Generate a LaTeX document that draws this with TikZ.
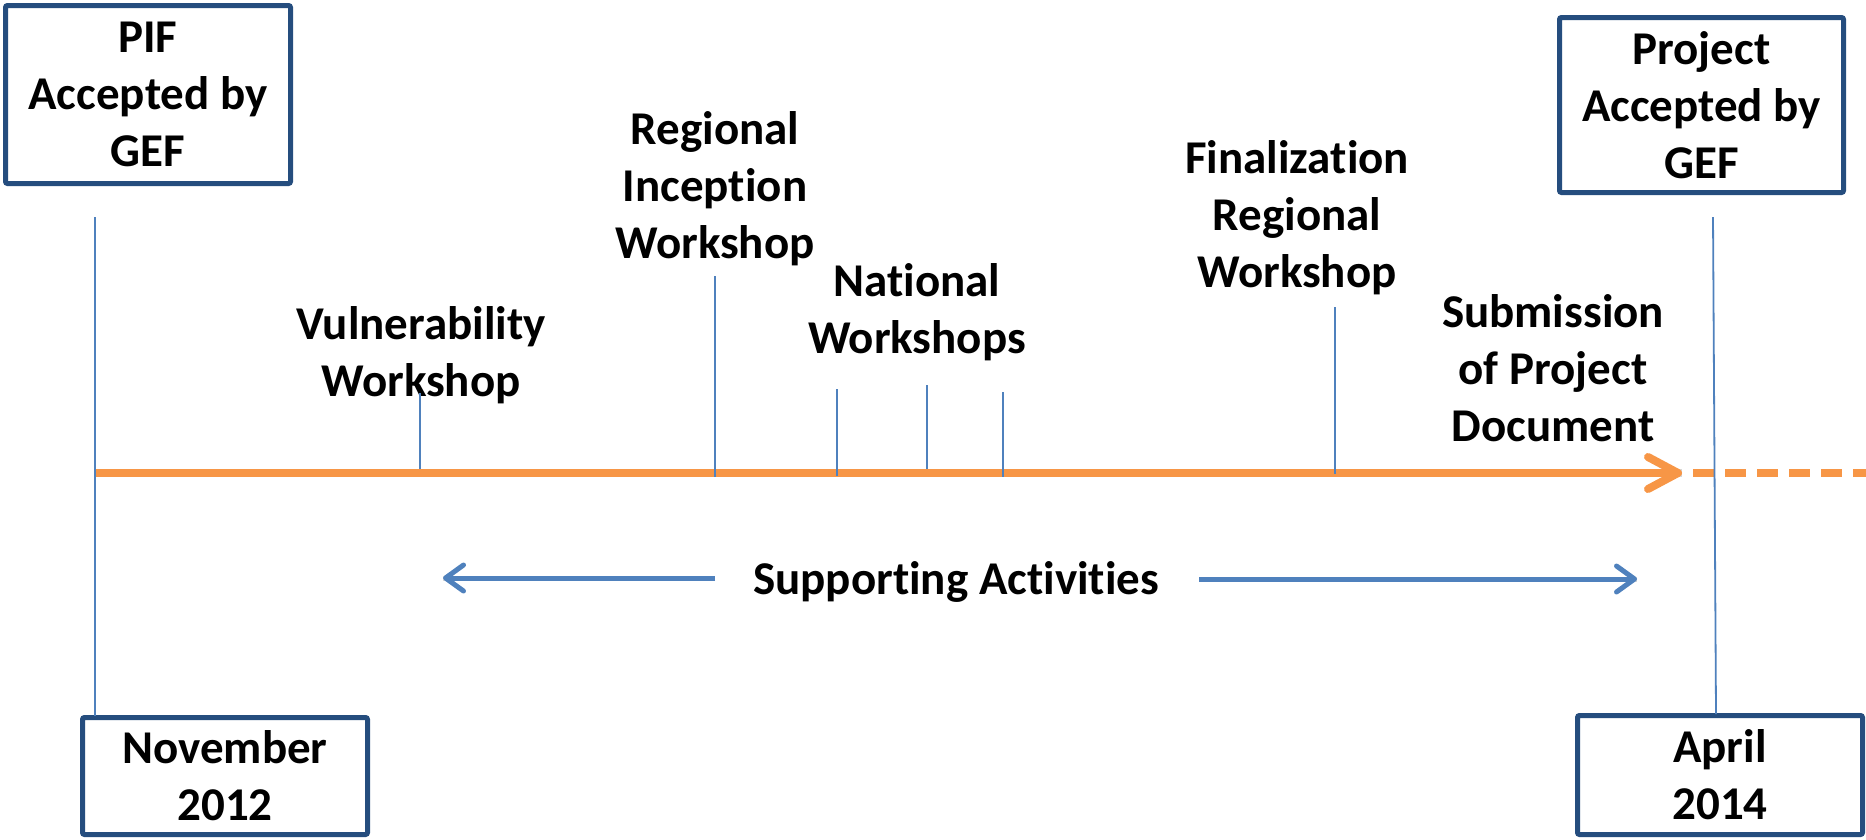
\documentclass[tikz,border=0pt]{standalone}
\usepackage{fontspec}
\setmainfont{Carlito}[Ligatures=NoCommon]
\usetikzlibrary{arrows.meta}
\definecolor{boxblue}{RGB}{37,77,126}
\definecolor{tickblue}{RGB}{79,129,189}
\definecolor{lineorange}{RGB}{247,150,70}
\begin{document}
\begin{tikzpicture}[x=1pt,y=-1pt,
  lbl/.style={font=\fontsize{47}{57}\selectfont\bfseries, align=center, inner sep=0pt},
  datebox/.style={lbl, draw=boxblue, line width=5pt, rounded corners=2pt, fill=white},
  tick/.style={draw=tickblue, line width=1.8pt},
  timeline/.style={draw=lineorange, line width=8pt},
  shade/.style={draw=black!45, opacity=0.35},
  support/.style={draw=tickblue, line width=5pt,
    -{Straight Barb[length=18pt,width=26pt,round]}},
]
\useasboundingbox (0,0) rectangle (1866,839);

% milestone boxes
\node[datebox, minimum width=285pt, minimum height=178pt] (pif) at (148,94.5)
  {PIF\\Accepted by\\GEF};
\node[datebox, minimum width=284pt, minimum height=175pt] (proj) at (1701.5,105)
  {Project\\Accepted by\\GEF};
\node[datebox, minimum width=285pt, minimum height=117pt] (nov) at (225,776)
  {November\\2012};
\node[datebox, minimum width=285pt, minimum height=119pt] (apr) at (1720,775)
  {April\\2014};

% event labels
\node[lbl] (vul) at (421,355) {Vulnerability\\Workshop};
\node[lbl] (reg) at (715,189) {Regional\\Inception\\Workshop};
\node[lbl] (nat) at (917,312) {National\\Workshops};
\node[lbl] (fin) at (1297,218) {Finalization\\Regional\\Workshop};
\node[lbl] (sub) at (1553,368) {Submission\\of Project\\Document};
\node[lbl] (sup) at (956,582) {Supporting Activities};

% timeline end points
\coordinate (tstart) at (95,473);
\coordinate (tend) at (1682,473);
\coordinate (dstart) at (1693,473);
\coordinate (dend) at (1866,473);

% start / end markers
\coordinate (ltop) at (95,217);
\coordinate (lbot) at (95,716);
\coordinate (rtop) at (1713,217);
\coordinate (rbot) at (1716,714);

% event ticks
\coordinate (vt) at (420,393);   \coordinate (vb) at (420,469);
\coordinate (rt) at (715,276);   \coordinate (rb) at (715,477);
\coordinate (n1t) at (837,389);  \coordinate (n1b) at (837,476);
\coordinate (n2t) at (927,385);  \coordinate (n2b) at (927,469);
\coordinate (n3t) at (1003,392); \coordinate (n3b) at (1003,477);
\coordinate (ft) at (1335,307);  \coordinate (fb) at (1335,474);

% supporting activities arrows
\coordinate (sl0) at (715,578);  \coordinate (sl1) at (443,578);
\coordinate (sr0) at (1199,579); \coordinate (sr1) at (1637,579);

% soft shadows
\begin{scope}[shift={(1.5,3.5)}]
  \draw[shade, line width=8pt] (tstart) -- (tend);
  \draw[shade, line width=8pt, dash pattern=on 21pt off 11pt] (dstart) -- (dend);
  \draw[shade, line width=5pt] (sl0) -- (sl1);
  \draw[shade, line width=5pt] (sr0) -- (sr1);
\end{scope}

% timeline
\draw[timeline, -{Straight Barb[length=30pt,width=32pt,round]}] (tstart) -- (tend);
\draw[timeline, dash pattern=on 21pt off 11pt] (dstart) -- (dend);

% ticks
\draw[tick] (ltop) -- (lbot);
\draw[tick] (rtop) -- (rbot);
\draw[tick] (vt) -- (vb);
\draw[tick] (rt) -- (rb);
\draw[tick] (n1t) -- (n1b);
\draw[tick] (n2t) -- (n2b);
\draw[tick] (n3t) -- (n3b);
\draw[tick] (ft) -- (fb);

% supporting arrows
\draw[support] (sl0) -- (sl1);
\draw[support] (sr0) -- (sr1);
\end{tikzpicture}
\end{document}
